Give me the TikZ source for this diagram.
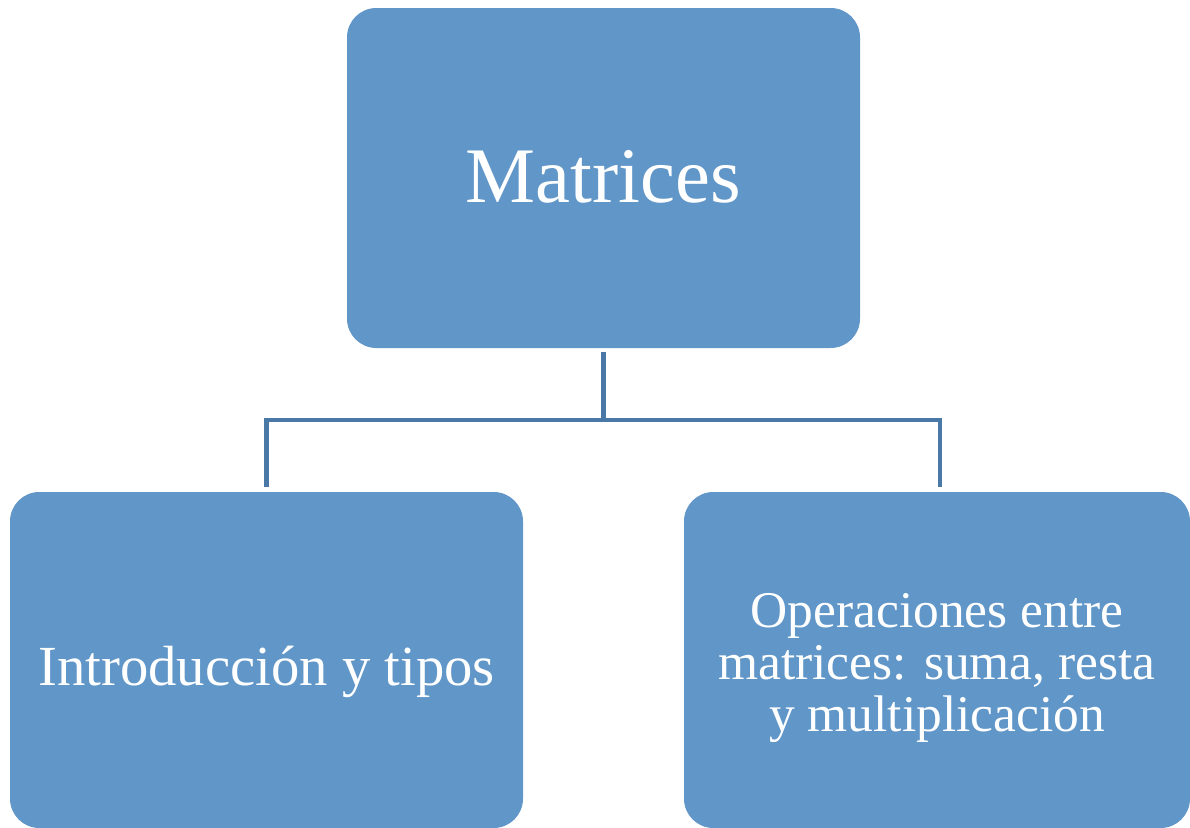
\documentclass[tikz,border=0pt]{standalone}
\usepackage{fontspec}
\setmainfont{Liberation Serif}
\usetikzlibrary{positioning,calc}
\definecolor{boxFill}{HTML}{6096C8}
\definecolor{linkDraw}{HTML}{4A79A8}
\tikzset{
  topic/.style ={fill=boxFill, rounded corners=22pt, inner sep=0pt},
  caption/.style ={align=center, text=white, inner sep=0pt},
  link/.style  ={draw=linkDraw, line width=3.6pt},
}
\begin{document}
\begin{tikzpicture}[x=0.75pt, y=-0.75pt]
  \useasboundingbox (0,0) rectangle (1190,828);
  % root and its two children, sizes taken from the layout
  \node[topic, minimum width=513*0.75pt, minimum height=340*0.75pt] (root)  at (603.5,178) {};
  \node[topic, minimum width=513*0.75pt, minimum height=336*0.75pt] (intro) at (266.5,660) {};
  \node[topic, minimum width=506*0.75pt, minimum height=336*0.75pt] (ops)   at (937,660) {};

  % texts, set a little below each box centre
  \node[caption, font=\fontsize{59}{62}\selectfont, below=-21pt of root.center] (rootText) {Matrices};
  \node[caption, font=\fontsize{42.5}{45}\selectfont, below=-11pt of intro.center] (introText) {Introducción y tipos};
  \node[caption, font=\fontsize{38.6}{39}\selectfont, below=-50pt of ops.center] (opsText)
        {Operaciones entre\\matrices: suma, resta\\y multiplicación};

  % elbow connectors through a common hub
  \coordinate (hub) at (603.5,420);
  \draw[link, shorten <=2.5pt] (root.south) -- (hub);
  \draw[link, shorten >=3.5pt] (hub) -| (intro.north);
  \draw[link, shorten >=3.5pt] (hub) -| ([xshift=2.25pt]ops.north);
\end{tikzpicture}
\end{document}
